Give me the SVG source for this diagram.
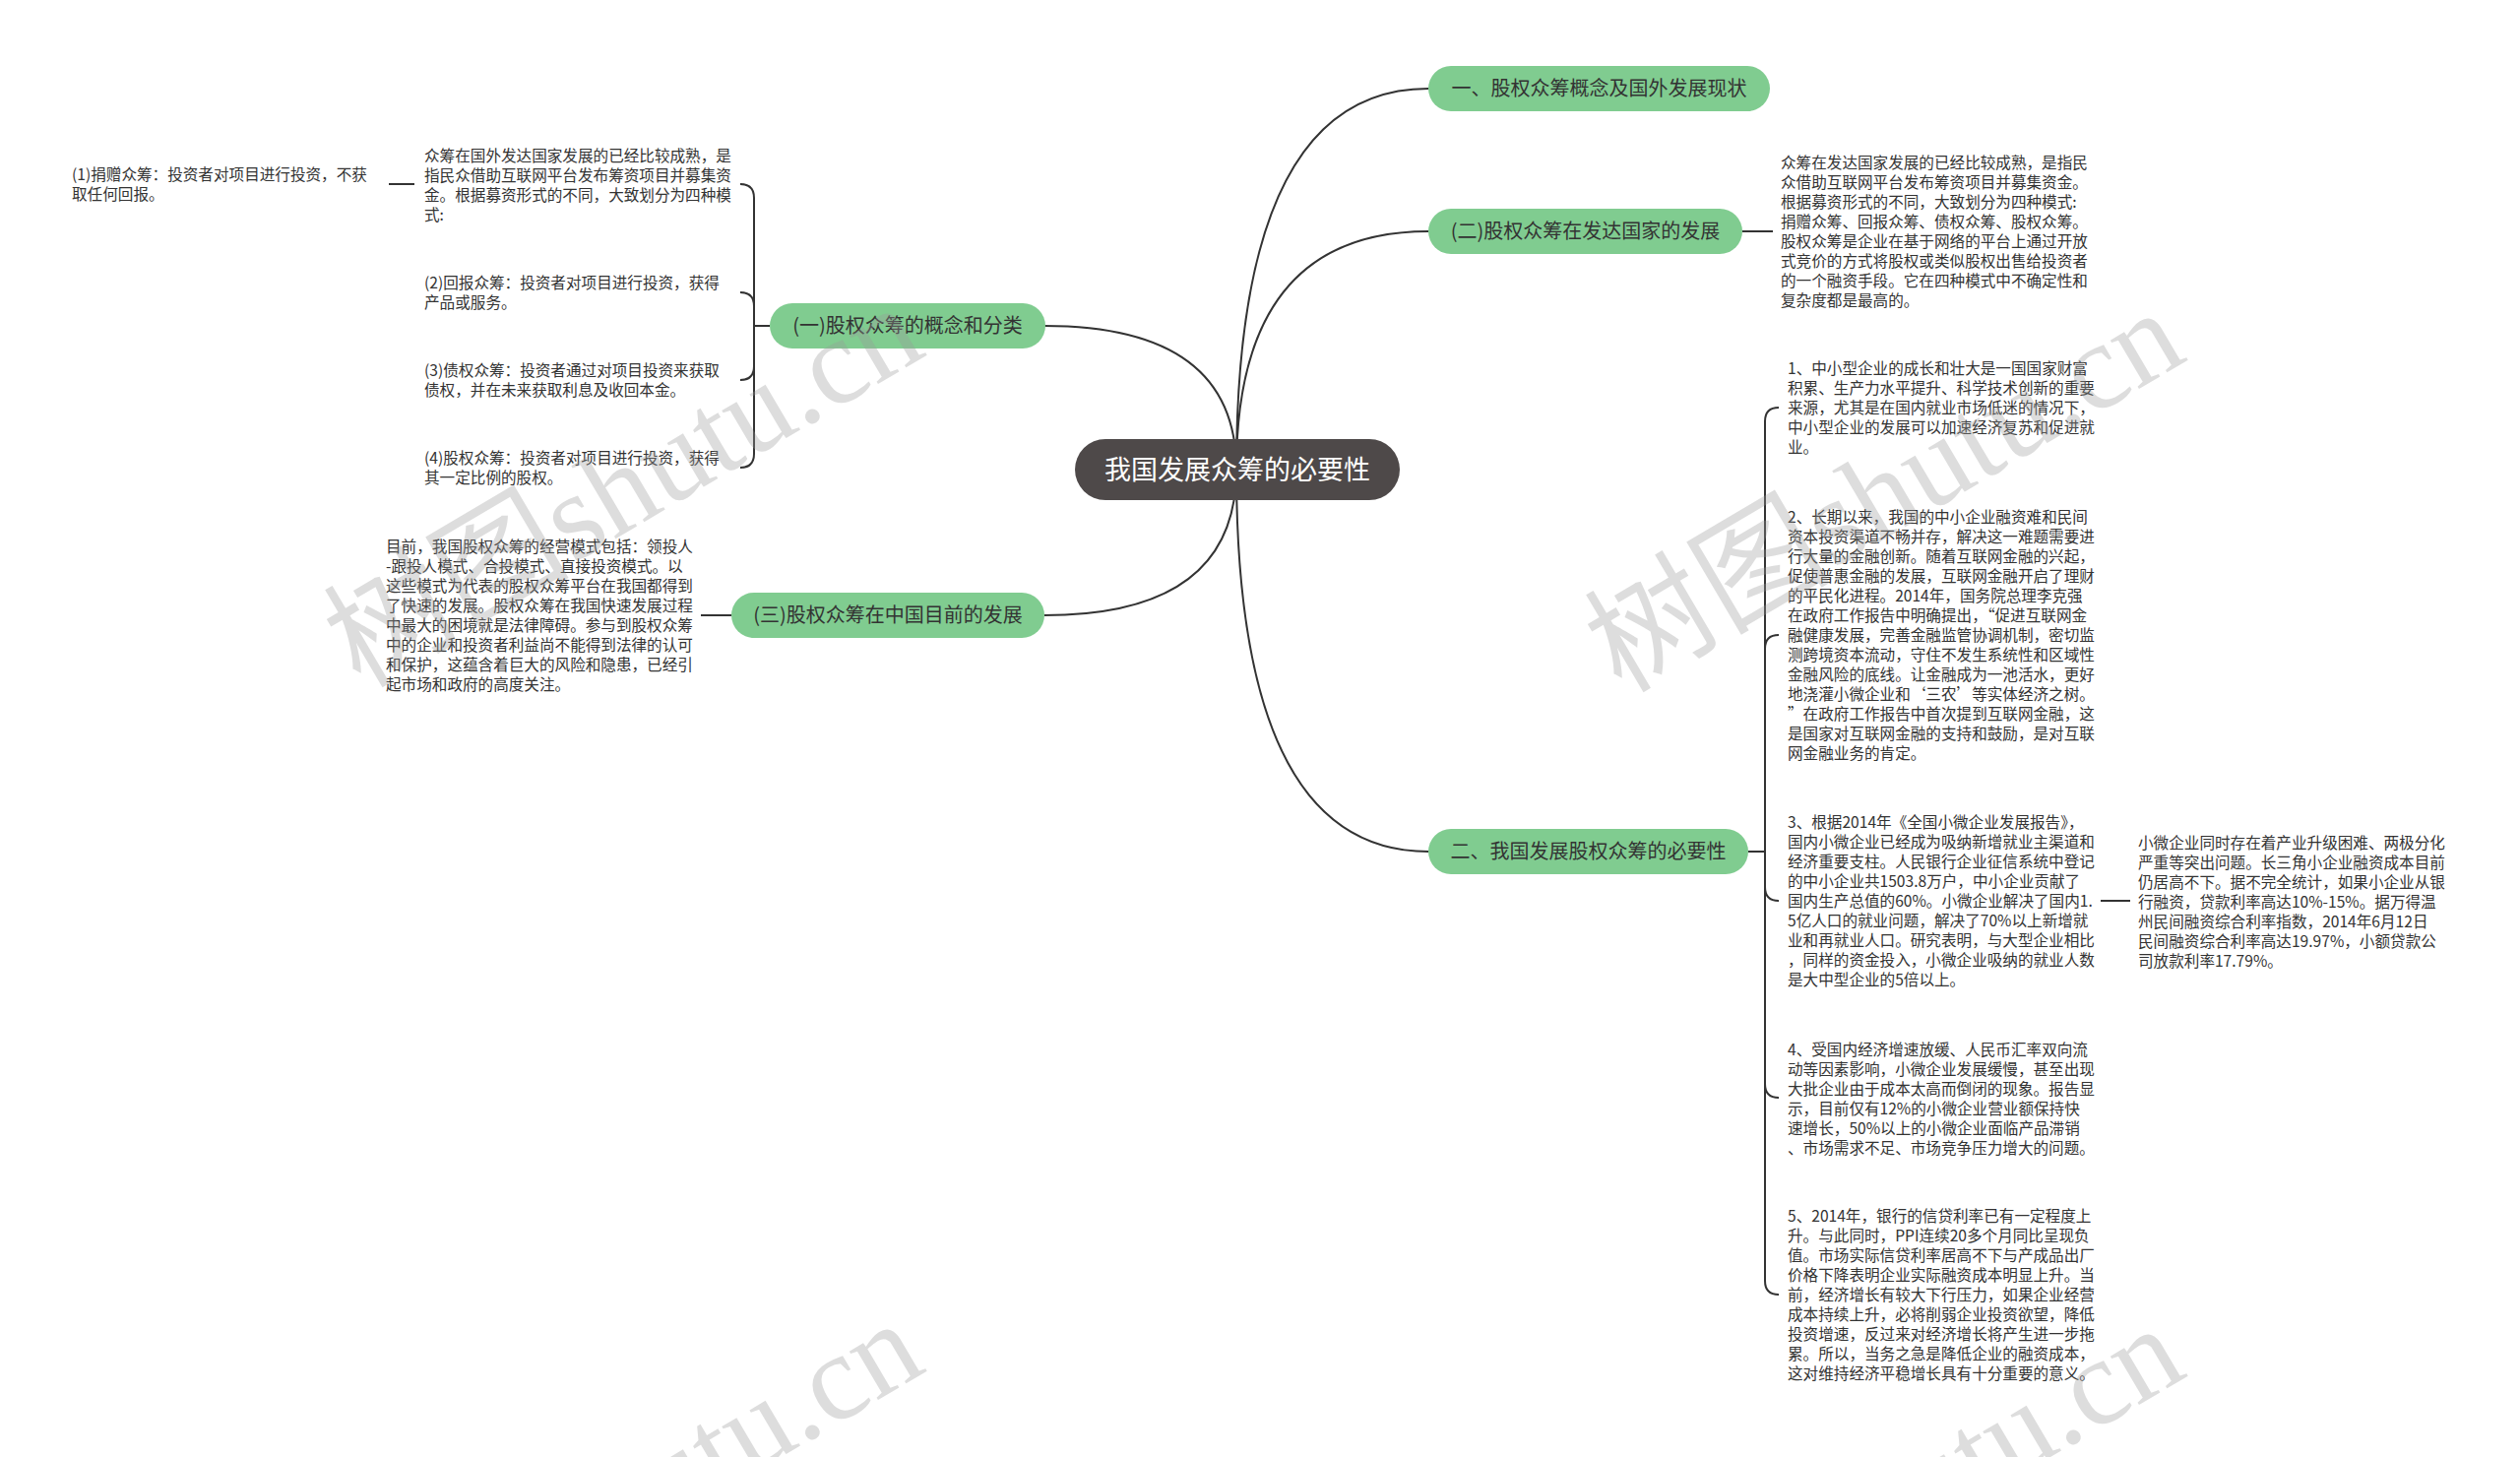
<svg xmlns="http://www.w3.org/2000/svg" width="2560" height="1480" viewBox="0 0 2560 1480">
<style>
text { font-family: "Noto Sans CJK SC", "Noto Sans", sans-serif; }
.leaf { font-size: 15.6px; fill: #333333; }
.topic rect { fill: #80cc90; }
.topic text { font-size: 20px; fill: #333333; text-anchor: middle; }
.root rect { fill: #4e4949; }
.root text { font-size: 27px; fill: #ffffff; text-anchor: middle; }
.conn path { fill: none; stroke: #333333; stroke-width: 2; }
.wm { font-family: "Liberation Serif", "Noto Sans CJK SC", serif; font-size: 125px; fill: #9a9a9a; opacity: 0.33; }
</style>
<rect width="2560" height="1480" fill="#ffffff"/>

<g id="connectors" class="conn">
  <!-- root to topics -->
  <path d="M1256 477 Q1256 90 1451 90"/>
  <path d="M1256 477 Q1256 235 1451 235"/>
  <path d="M1256 477 Q1256 865 1451 865"/>
  <path d="M1256 477 Q1256 331 1061 331"/>
  <path d="M1256 477 Q1256 625 1061 625"/>
  <!-- (一) to children -->
  <path d="M782 331 H766 V201 Q766 187 752 187"/>
  <path d="M782 331 H766 V311 Q766 297 752 297"/>
  <path d="M782 331 H766 V372 Q766 386 752 386"/>
  <path d="M782 331 H766 V461 Q766 475 752 475"/>
  <path d="M421 187 H395"/>
  <!-- (三) to text -->
  <path d="M743 625 H712"/>
  <!-- (二) to text -->
  <path d="M1770 235 H1801"/>
  <!-- 二 to items -->
  <path d="M1776 865 H1793 V428 Q1793 414 1807 414"/>
  <path d="M1776 865 H1793 V659 Q1793 645 1807 645"/>
  <path d="M1776 865 H1793 V901 Q1793 915 1807 915"/>
  <path d="M1776 865 H1793 V1101 Q1793 1115 1807 1115"/>
  <path d="M1776 865 H1793 V1301 Q1793 1315 1807 1315"/>
  <path d="M2134 915 H2164"/>
</g>

<g id="root" class="root">
  <rect x="1092" y="446" width="330" height="62" rx="31"/>
  <text x="1257" y="487">我国发展众筹的必要性</text>
</g>

<g id="topic-1" class="topic">
  <rect x="1451" y="67" width="347" height="46" rx="23"/>
  <text x="1624.5" y="97">一、股权众筹概念及国外发展现状</text>
</g>
<g id="topic-2" class="topic">
  <rect x="1451" y="212" width="319" height="46" rx="23"/>
  <text x="1610.5" y="242">(二)股权众筹在发达国家的发展</text>
</g>
<g id="topic-3" class="topic">
  <rect x="1451" y="842" width="325" height="46" rx="23"/>
  <text x="1613.5" y="872">二、我国发展股权众筹的必要性</text>
</g>
<g id="topic-4" class="topic">
  <rect x="782" y="308" width="280" height="46" rx="23"/>
  <text x="922" y="338">(一)股权众筹的概念和分类</text>
</g>
<g id="topic-5" class="topic">
  <rect x="743" y="602" width="318" height="46" rx="23"/>
  <text x="902" y="632">(三)股权众筹在中国目前的发展</text>
</g>

<g id="leaf-a" class="leaf">
  <text x="431" y="163.5"><tspan x="431">众筹在国外发达国家发展的已经比较成熟，是</tspan><tspan x="431" dy="20">指民众借助互联网平台发布筹资项目并募集资</tspan><tspan x="431" dy="20">金。根据募资形式的不同，大致划分为四种模</tspan><tspan x="431" dy="20">式:</tspan></text>
</g>
<g id="leaf-1" class="leaf">
  <text x="73" y="183"><tspan x="73">(1)捐赠众筹：投资者对项目进行投资，不获</tspan><tspan x="73" dy="20">取任何回报。</tspan></text>
</g>
<g id="leaf-2" class="leaf">
  <text x="431" y="293"><tspan x="431">(2)回报众筹：投资者对项目进行投资，获得</tspan><tspan x="431" dy="20">产品或服务。</tspan></text>
</g>
<g id="leaf-3" class="leaf">
  <text x="431" y="382"><tspan x="431">(3)债权众筹：投资者通过对项目投资来获取</tspan><tspan x="431" dy="20">债权，并在未来获取利息及收回本金。</tspan></text>
</g>
<g id="leaf-4" class="leaf">
  <text x="431" y="471"><tspan x="431">(4)股权众筹：投资者对项目进行投资，获得</tspan><tspan x="431" dy="20">其一定比例的股权。</tspan></text>
</g>
<g id="leaf-china" class="leaf">
  <text x="392" y="561"><tspan x="392">目前，我国股权众筹的经营模式包括：领投人</tspan><tspan x="392" dy="20">-跟投人模式、合投模式、直接投资模式。以</tspan><tspan x="392" dy="20">这些模式为代表的股权众筹平台在我国都得到</tspan><tspan x="392" dy="20">了快速的发展。股权众筹在我国快速发展过程</tspan><tspan x="392" dy="20">中最大的困境就是法律障碍。参与到股权众筹</tspan><tspan x="392" dy="20">中的企业和投资者利益尚不能得到法律的认可</tspan><tspan x="392" dy="20">和保护，这蕴含着巨大的风险和隐患，已经引</tspan><tspan x="392" dy="20">起市场和政府的高度关注。</tspan></text>
</g>
<g id="leaf-dev" class="leaf">
  <text x="1809" y="171"><tspan x="1809">众筹在发达国家发展的已经比较成熟，是指民</tspan><tspan x="1809" dy="20">众借助互联网平台发布筹资项目并募集资金。</tspan><tspan x="1809" dy="20">根据募资形式的不同，大致划分为四种模式:</tspan><tspan x="1809" dy="20">捐赠众筹、回报众筹、债权众筹、股权众筹。</tspan><tspan x="1809" dy="20">股权众筹是企业在基于网络的平台上通过开放</tspan><tspan x="1809" dy="20">式竞价的方式将股权或类似股权出售给投资者</tspan><tspan x="1809" dy="20">的一个融资手段。它在四种模式中不确定性和</tspan><tspan x="1809" dy="20">复杂度都是最高的。</tspan></text>
</g>
<g id="item-1" class="leaf">
  <text x="1816" y="380"><tspan x="1816">1、中小型企业的成长和壮大是一国国家财富</tspan><tspan x="1816" dy="20">积累、生产力水平提升、科学技术创新的重要</tspan><tspan x="1816" dy="20">来源，尤其是在国内就业市场低迷的情况下，</tspan><tspan x="1816" dy="20">中小型企业的发展可以加速经济复苏和促进就</tspan><tspan x="1816" dy="20">业。</tspan></text>
</g>
<g id="item-2" class="leaf">
  <text x="1816" y="531"><tspan x="1816">2、长期以来，我国的中小企业融资难和民间</tspan><tspan x="1816" dy="20">资本投资渠道不畅并存，解决这一难题需要进</tspan><tspan x="1816" dy="20">行大量的金融创新。随着互联网金融的兴起，</tspan><tspan x="1816" dy="20">促使普惠金融的发展，互联网金融开启了理财</tspan><tspan x="1816" dy="20">的平民化进程。2014年，国务院总理李克强</tspan><tspan x="1816" dy="20">在政府工作报告中明确提出，“促进互联网金</tspan><tspan x="1816" dy="20">融健康发展，完善金融监管协调机制，密切监</tspan><tspan x="1816" dy="20">测跨境资本流动，守住不发生系统性和区域性</tspan><tspan x="1816" dy="20">金融风险的底线。让金融成为一池活水，更好</tspan><tspan x="1816" dy="20">地浇灌小微企业和‘三农’等实体经济之树。</tspan><tspan x="1816" dy="20">”在政府工作报告中首次提到互联网金融，这</tspan><tspan x="1816" dy="20">是国家对互联网金融的支持和鼓励，是对互联</tspan><tspan x="1816" dy="20">网金融业务的肯定。</tspan></text>
</g>
<g id="item-3" class="leaf">
  <text x="1816" y="841"><tspan x="1816">3、根据2014年《全国小微企业发展报告》，</tspan><tspan x="1816" dy="20">国内小微企业已经成为吸纳新增就业主渠道和</tspan><tspan x="1816" dy="20">经济重要支柱。人民银行企业征信系统中登记</tspan><tspan x="1816" dy="20">的中小企业共1503.8万户，中小企业贡献了</tspan><tspan x="1816" dy="20">国内生产总值的60%。小微企业解决了国内1.</tspan><tspan x="1816" dy="20">5亿人口的就业问题，解决了70%以上新增就</tspan><tspan x="1816" dy="20">业和再就业人口。研究表明，与大型企业相比</tspan><tspan x="1816" dy="20">，同样的资金投入，小微企业吸纳的就业人数</tspan><tspan x="1816" dy="20">是大中型企业的5倍以上。</tspan></text>
</g>
<g id="item-3-detail" class="leaf">
  <text x="2172" y="861.5"><tspan x="2172">小微企业同时存在着产业升级困难、两极分化</tspan><tspan x="2172" dy="20">严重等突出问题。长三角小企业融资成本目前</tspan><tspan x="2172" dy="20">仍居高不下。据不完全统计，如果小企业从银</tspan><tspan x="2172" dy="20">行融资，贷款利率高达10%-15%。据万得温</tspan><tspan x="2172" dy="20">州民间融资综合利率指数，2014年6月12日</tspan><tspan x="2172" dy="20">民间融资综合利率高达19.97%，小额贷款公</tspan><tspan x="2172" dy="20">司放款利率17.79%。</tspan></text>
</g>
<g id="item-4" class="leaf">
  <text x="1816" y="1071.5"><tspan x="1816">4、受国内经济增速放缓、人民币汇率双向流</tspan><tspan x="1816" dy="20">动等因素影响，小微企业发展缓慢，甚至出现</tspan><tspan x="1816" dy="20">大批企业由于成本太高而倒闭的现象。报告显</tspan><tspan x="1816" dy="20">示，目前仅有12%的小微企业营业额保持快</tspan><tspan x="1816" dy="20">速增长，50%以上的小微企业面临产品滞销</tspan><tspan x="1816" dy="20">、市场需求不足、市场竞争压力增大的问题。</tspan></text>
</g>
<g id="item-5" class="leaf">
  <text x="1816" y="1241"><tspan x="1816">5、2014年，银行的信贷利率已有一定程度上</tspan><tspan x="1816" dy="20">升。与此同时，PPI连续20多个月同比呈现负</tspan><tspan x="1816" dy="20">值。市场实际信贷利率居高不下与产成品出厂</tspan><tspan x="1816" dy="20">价格下降表明企业实际融资成本明显上升。当</tspan><tspan x="1816" dy="20">前，经济增长有较大下行压力，如果企业经营</tspan><tspan x="1816" dy="20">成本持续上升，必将削弱企业投资欲望，降低</tspan><tspan x="1816" dy="20">投资增速，反过来对经济增长将产生进一步拖</tspan><tspan x="1816" dy="20">累。所以，当务之急是降低企业的融资成本，</tspan><tspan x="1816" dy="20">这对维持经济平稳增长具有十分重要的意义。</tspan></text>
</g>

<g id="watermarks">
  <text class="wm" transform="translate(366 700) rotate(-30.5)">树图shutu.cn</text>
  <text class="wm" transform="translate(1647 705) rotate(-30.5)">树图shutu.cn</text>
  <text class="wm" transform="translate(366 1732) rotate(-30.5)">树图shutu.cn</text>
  <text class="wm" transform="translate(1647 1737) rotate(-30.5)">树图shutu.cn</text>
</g>
</svg>
